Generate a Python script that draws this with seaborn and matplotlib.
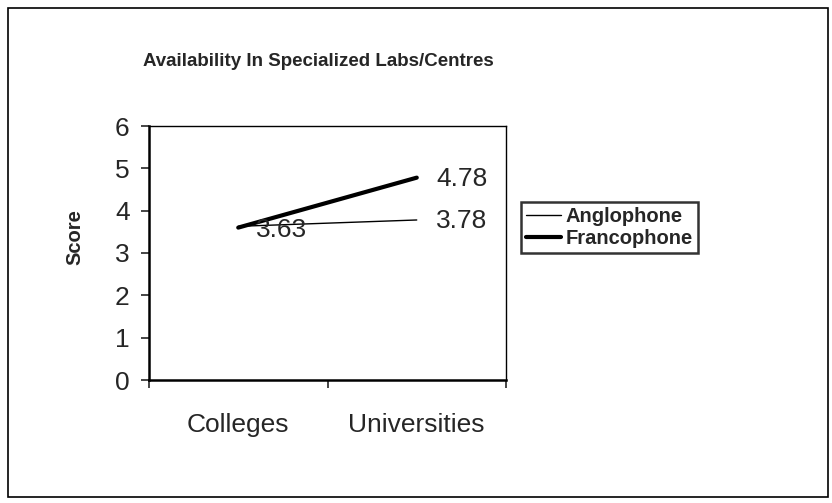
import matplotlib
matplotlib.use("Agg")
import matplotlib.pyplot as plt
import seaborn as sns
import pandas as pd
from matplotlib.patches import Rectangle

categories = ["Colleges", "Universities"]
anglophone = [3.63, 3.78]
francophone = [3.6, 4.78]
y_ticks = [0, 1, 2, 3, 4, 5, 6]

sns.set_style("white")
plt.rcParams['font.family'] = ['Liberation Sans', 'DejaVu Sans']

fig = plt.figure(figsize=(8.32, 5.03), dpi=100)
ax = fig.add_axes([149 / 832, 1 - 380 / 503, (506 - 149) / 832, (380 - 126) / 503])

df = pd.DataFrame({
    "category": categories * 2,
    "score": anglophone + francophone,
    "group": ["Anglophone"] * 2 + ["Francophone"] * 2,
})

widths = {"Anglophone": 1.0, "Francophone": 3.0}
for name, sub in df.groupby("group", sort=False):
    sns.lineplot(data=sub, x="category", y="score", color="black",
                 linewidth=widths[name], label=name, ax=ax)

label_size = 19
# data labels
ax.annotate(f"{anglophone[0]:.2f}", (0, anglophone[0]), xytext=(13, -3),
            textcoords="offset points", ha="left", va="center", fontsize=label_size)
ax.annotate(f"{anglophone[1]:.2f}", (1, anglophone[1]), xytext=(14, -1),
            textcoords="offset points", ha="left", va="center", fontsize=label_size)
ax.annotate(f"{francophone[1]:.2f}", (1, francophone[1]), xytext=(14, -1),
            textcoords="offset points", ha="left", va="center", fontsize=label_size)

ax.set_xlim(-0.5, 1.5)
ax.set_ylim(0, 6)
ax.set_yticks(y_ticks)
ax.set_xticks([0, 1])
ax.set_xticklabels(categories)
ax.set_xticks([-0.5, 0.5, 1.5], minor=True)
ax.tick_params(axis="x", which="major", length=0, pad=24, labelsize=label_size)
ax.tick_params(axis="x", which="minor", length=6, width=1.2, direction="out", bottom=True)
ax.tick_params(axis="y", length=6, width=1.2, direction="out", left=True,
               labelsize=label_size, pad=8)
for s in ax.spines.values():
    s.set_color("black")
    s.set_linewidth(1.0)
ax.spines["left"].set_linewidth(1.8)
ax.spines["bottom"].set_linewidth(1.8)

ax.set_xlabel("")
ax.set_ylabel("")
fig.text(75 / 832, 1 - 237 / 503, "Score", rotation=90, ha="center", va="center",
         fontsize=14.5, fontweight="bold")
fig.text(318 / 832, 1 - 62 / 503, "Availability In Specialized Labs/Centres",
         ha="center", va="center", fontsize=13.5, fontweight="bold")

leg = ax.legend(loc="upper left", bbox_to_anchor=(521 / 832, 1 - 202 / 503),
                bbox_transform=fig.transFigure, frameon=True, fancybox=False,
                handlelength=1.75, handletextpad=0.2, borderpad=0.25,
                borderaxespad=0, labelspacing=0.15,
                prop={"weight": "bold", "size": 14.5})
leg.get_frame().set_edgecolor("black")
leg.get_frame().set_linewidth(1.8)

# chart area border
fig.patches.append(Rectangle((8 / 832, 6 / 503), 820 / 832, 489 / 503,
                             transform=fig.transFigure, fill=False,
                             edgecolor="black", linewidth=1.2))

fig.savefig("out.png", dpi=100)
